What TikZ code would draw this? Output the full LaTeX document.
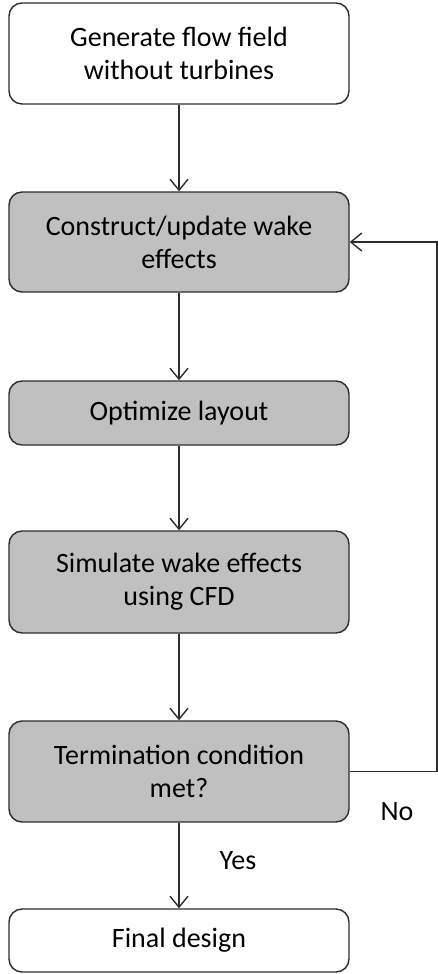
\documentclass[tikz,border=0pt]{standalone}
\usepackage{fontspec}
\setmainfont{Carlito}
\usetikzlibrary{arrows.meta}
\definecolor{boxgray}{RGB}{192,192,192}
\definecolor{linegray}{RGB}{45,45,45}

\begin{document}
\begin{tikzpicture}
  [x=1pt,y=1pt,
   every node/.style={font=\fontsize{28}{33}\selectfont,align=center},
   stage/.style={draw=linegray,line width=1.4pt,rounded corners=13pt,
                 minimum width=340pt,inner sep=0pt,fill=boxgray},
   flow/.style={draw=linegray,line width=1.4pt,-{Straight Barb[length=11pt,width=18pt]}}]
  \useasboundingbox (0,0) rectangle (438,-974);

  \node[stage,fill=white,minimum height=101pt] (gen) at (179,-53.5) {Generate flow field\\without turbines};
  \node[stage,minimum height=100pt] (wake) at (179,-242) {Construct/update wake\\effects};
  \node[stage,minimum height=64pt] (opt) at (179,-413) {Optimize layout};
  \node[stage,minimum height=102pt] (cfd) at (179,-582) {Simulate wake effects\\using CFD};
  \node[stage,minimum height=101pt] (term) at (179,-771.5) {Termination condition\\met?};
  \node[stage,fill=white,minimum height=63pt] (final) at (179,-940.5) {Final design};

  \coordinate (back) at (437,-771.5);

  \draw[flow] (gen) -- (wake);
  \draw[flow] (wake) -- (opt);
  \draw[flow] (opt) -- (cfd);
  \draw[flow] (cfd) -- (term);
  \draw[flow] (term) -- (final);
  \draw[flow] (term.east) -- (back) |- (wake.east);

  \node (no) at (397,-812) {No};
  \node (yes) at (238,-861) {Yes};
\end{tikzpicture}
\end{document}
